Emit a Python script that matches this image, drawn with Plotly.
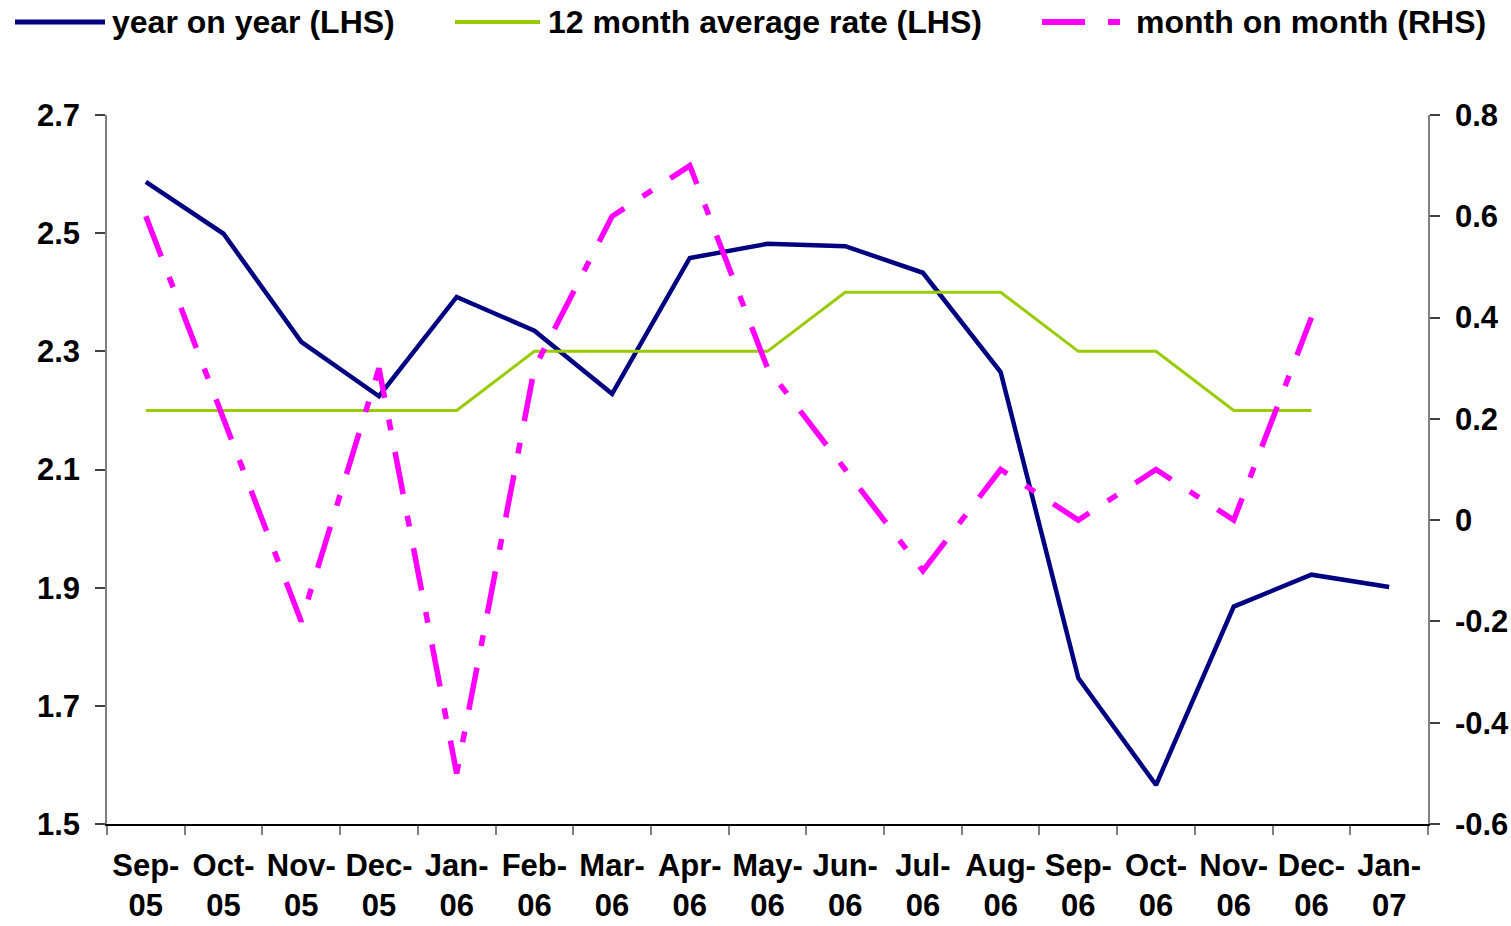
import plotly.graph_objects as go

months = ["Sep-05", "Oct-05", "Nov-05", "Dec-05", "Jan-06", "Feb-06", "Mar-06", "Apr-06",
          "May-06", "Jun-06", "Jul-06", "Aug-06", "Sep-06", "Oct-06", "Nov-06", "Dec-06", "Jan-07"]
year_on_year = [2.587, 2.499, 2.316, 2.224, 2.392, 2.335, 2.228, 2.458,
                2.482, 2.478, 2.433, 2.265, 1.747, 1.566, 1.868, 1.922, 1.901]
avg_12m = [2.2, 2.2, 2.2, 2.2, 2.2, 2.3, 2.3, 2.3, 2.3, 2.4, 2.4, 2.4, 2.3, 2.3, 2.2, 2.2, None]
month_on_month = [0.6, 0.2, -0.2, 0.3, -0.5, 0.3, 0.6, 0.7, 0.3, 0.1, -0.1, 0.1, 0.0, 0.1, 0.0, 0.4, None]

left_ticks = [1.5, 1.7, 1.9, 2.1, 2.3, 2.5, 2.7]
right_ticks = [-0.6, -0.4, -0.2, 0, 0.2, 0.4, 0.6, 0.8]
right_labels = ["-0.6", "-0.4", "-0.2", "0", "0.2", "0.4", "0.6", "0.8"]

legend_names = ["year on year (LHS)", "12 month average rate (LHS)", "month on month (RHS)"]

cats = [m.replace("-", "-<br>") for m in months]

NAVY = "#000080"
GREEN = "#99CC00"
MAGENTA = "#FF00FF"
DASH = "43px,22px,11px,22px"
FONT = "Liberation Sans, Arial, sans-serif"
FS = 31
LFS = 32

fig = go.Figure()
fig.add_trace(go.Scatter(x=cats, y=year_on_year, mode="lines", name=legend_names[0],
                         line=dict(color=NAVY, width=4.5)))
fig.add_trace(go.Scatter(x=cats, y=avg_12m, mode="lines", name=legend_names[1],
                         line=dict(color=GREEN, width=3)))
fig.add_trace(go.Scatter(x=cats, y=month_on_month, mode="lines", name=legend_names[2],
                         yaxis="y2", line=dict(color=MAGENTA, width=5.5, dash=DASH)))

W, H = 1511, 926
L, R, T, B = 107, 1428, 115, 824  # plot area in page pixels (body margin removed)
pw, ph = R - L, B - T


def px(x):
    return (x - L) / pw


def py(y):
    return (B - y) / ph


tickfont = dict(family=FONT, size=FS, color="black", weight="bold")

fig.update_layout(
    width=W, height=H,
    margin=dict(l=L, r=W - R, t=T, b=H - B, autoexpand=False),
    paper_bgcolor="white", plot_bgcolor="white",
    showlegend=False,
    xaxis=dict(type="category", range=[-0.5, 16.5], tickson="boundaries", tickangle=0,
               ticks="outside", ticklen=9, tickcolor="#808080", tickwidth=1.5,
               ticklabelstandoff=13,
               showline=True, linecolor="black", linewidth=1.5, automargin=False,
               showgrid=False, zeroline=False, tickfont=tickfont),
    yaxis=dict(range=[1.5, 2.7], tickvals=left_ticks, ticktext=[f"{v:.1f}" for v in left_ticks],
               ticks="outside", ticklen=10, tickcolor="#404040", tickwidth=1.5,
               ticklabelstandoff=9,
               showline=True, linecolor="#808080", linewidth=1.5, automargin=False,
               showgrid=False, zeroline=False, tickfont=tickfont),
    yaxis2=dict(range=[-0.6, 0.8], tickvals=right_ticks, ticktext=right_labels,
                overlaying="y", side="right",
                ticks="outside", ticklen=10, tickcolor="#404040", tickwidth=1.5,
                ticklabelstandoff=9,
                showline=True, linecolor="#808080", linewidth=1.5, automargin=False,
                showgrid=False, zeroline=False, tickfont=tickfont),
)

# manual legend (long line samples as in the reference)
leg_y = py(22)
items = [
    (15, 105, 110, NAVY, 5, "solid", legend_names[0]),
    (455, 540, 546, GREEN, 4, "solid", legend_names[1]),
    (1042, 1122, 1134, MAGENTA, 6, "43px,23px,12px,40px", legend_names[2]),
]
for x0, x1, tx, col, wd, dash, name in items:
    fig.add_shape(type="line", xref="paper", yref="paper", x0=px(x0), x1=px(x1),
                  y0=leg_y, y1=leg_y, line=dict(color=col, width=wd, dash=dash))
    fig.add_annotation(xref="paper", yref="paper", x=px(tx), y=leg_y, text=name,
                       showarrow=False, xanchor="left", yanchor="middle",
                       font=dict(family=FONT, size=LFS, color="black", weight="bold"))

fig.write_html("out.html", config={"displayModeBar": False},
               post_script="document.body.style.margin='0';document.body.style.overflow='hidden';")
